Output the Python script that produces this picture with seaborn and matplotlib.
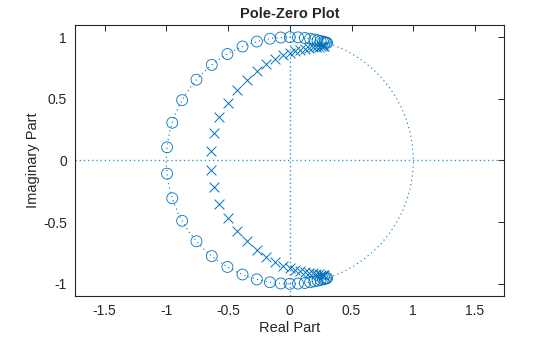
import numpy as np
import matplotlib
matplotlib.use("Agg")
import matplotlib.pyplot as plt
from matplotlib.patches import Circle
import seaborn as sns

# Zeros (upper half-plane)
zeros_re_upper = [-0.994, -0.952, -0.872, -0.756, -0.632, -0.505, -0.383, -0.267, -0.161,
                  -0.073, 0.000, 0.066, 0.122, 0.164, 0.199, 0.225, 0.250, 0.269, 0.283, 0.294, 0.302]
zeros_im_upper = [0.107, 0.306, 0.489, 0.655, 0.775, 0.863, 0.924, 0.964, 0.987,
                  0.997, 1.000, 0.998, 0.993, 0.987, 0.980, 0.974, 0.968, 0.963, 0.959, 0.956, 0.953]
zeros_re_lower = [-0.994, -0.952, -0.872, -0.756, -0.632, -0.505, -0.383, -0.267, -0.161,
                  -0.073, 0.000, 0.066, 0.122, 0.164, 0.199, 0.225, 0.250, 0.269, 0.283, 0.294, 0.302]
zeros_im_lower = [-0.107, -0.306, -0.489, -0.655, -0.775, -0.863, -0.924, -0.964, -0.987,
                  -0.997, -1.000, -0.998, -0.993, -0.987, -0.980, -0.974, -0.968, -0.963, -0.959, -0.956, -0.953]

# Poles
poles_re_upper = [-0.640, -0.615, -0.570, -0.503, -0.429, -0.348, -0.269, -0.190, -0.117, -0.057,
                  0.002, 0.045, 0.085, 0.122, 0.156, 0.186, 0.212, 0.234, 0.252, 0.267, 0.280]
poles_im_upper = [0.075, 0.219, 0.355, 0.467, 0.573, 0.654, 0.727, 0.782, 0.820, 0.852,
                  0.873, 0.887, 0.897, 0.905, 0.911, 0.916, 0.920, 0.923, 0.925, 0.927, 0.928]
poles_re_lower = [-0.640, -0.615, -0.570, -0.503, -0.429, -0.348, -0.269, -0.190, -0.117, -0.057,
                  0.002, 0.045, 0.085, 0.122, 0.156, 0.186, 0.212, 0.234, 0.252, 0.267, 0.280]
poles_im_lower = [-0.075, -0.219, -0.355, -0.467, -0.573, -0.654, -0.727, -0.782, -0.820, -0.852,
                  -0.873, -0.887, -0.897, -0.905, -0.911, -0.916, -0.920, -0.923, -0.925, -0.927, -0.928]

x_ticks = [-1.5, -1, -0.5, 0, 0.5, 1, 1.5]
x_tick_labels = ["-1.5", "-1", "-0.5", "0", "0.5", "1", "1.5"]
y_ticks = [-1, -0.5, 0, 0.5, 1]
y_tick_labels = ["-1", "-0.5", "0", "0.5", "1"]

sns.set_style("white")
plt.rcParams['font.family'] = ['Liberation Sans', 'DejaVu Sans']

C = "#0072BD"
fig = plt.figure(figsize=(5.6, 3.37), dpi=100)
ax = fig.add_axes([0.1345, 0.1226, 0.9005 - 0.1345, 0.925 - 0.1226])

# reference lines
ax.axhline(0, color=C, lw=1.0, ls=(0, (1, 2)), alpha=0.75, zorder=1)
ax.axvline(0, color=C, lw=1.0, ls=(0, (1, 2)), alpha=0.75, zorder=1)
ax.add_patch(Circle((0, 0), 1.0, fill=False, edgecolor=C, lw=0.8, ls=(0, (1, 3)), zorder=1))

zre = zeros_re_upper + zeros_re_lower
zim = zeros_im_upper + zeros_im_lower
pre = poles_re_upper + poles_re_lower
pim = poles_im_upper + poles_im_lower

sns.scatterplot(x=zre, y=zim, marker='o', s=62, facecolors='none', edgecolor=C,
                linewidth=0.6, ax=ax, zorder=3)
sns.scatterplot(x=pre, y=pim, marker='x', s=50, color=C, linewidth=0.7, ax=ax, zorder=3)

ax.set_xlim(-1.737, 1.737)
ax.set_ylim(-1.096, 1.096)
ax.set_xticks(x_ticks)
ax.set_xticklabels(x_tick_labels)
ax.set_yticks(y_ticks)
ax.set_yticklabels(y_tick_labels)
ax.tick_params(direction='in', length=4, width=0.7, top=True, right=True,
               labelsize=10, colors='#262626', pad=6)
for s in ax.spines.values():
    s.set_color('#262626')
    s.set_linewidth(0.8)

ax.set_title("Pole-Zero Plot", fontsize=10.5, fontweight='bold', pad=5)
ax.set_xlabel("Real Part", fontsize=10.5, color='#262626', labelpad=2)
ax.set_ylabel("Imaginary Part", fontsize=10.5, color='#262626', labelpad=2)

fig.savefig("out.png", dpi=100)
